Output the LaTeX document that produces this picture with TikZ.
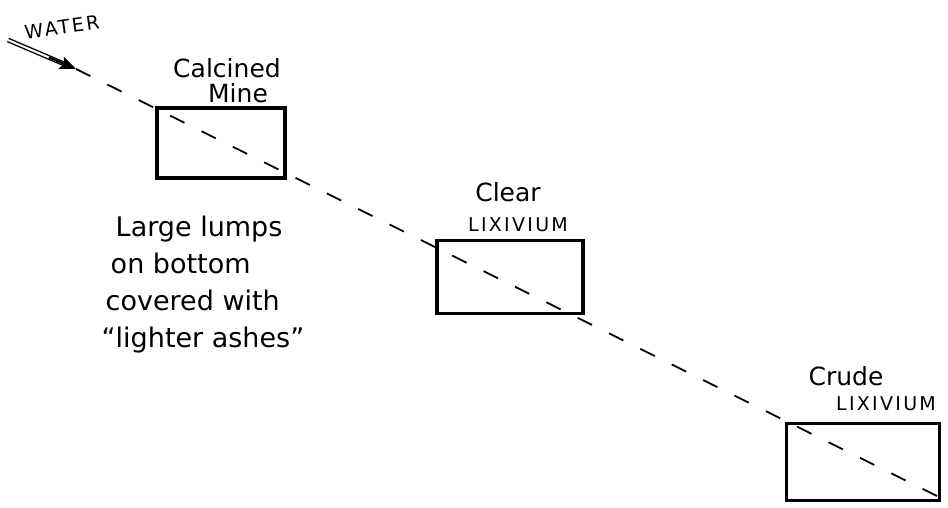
\documentclass[tikz,border=0pt]{standalone}
\usepackage{fontspec}
\setmainfont{DejaVu Sans}
\usetikzlibrary{arrows.meta,calc}
\begin{document}
\begin{tikzpicture}[x=1pt,y=-1pt,
  tank/.style={draw,line width=3.2pt,minimum width=#1,inner sep=0pt},
  lbl/.style={font=\fontsize{25}{28}\selectfont,inner sep=0pt},
  caps/.style={font=\fontsize{19}{21}\selectfont\addfontfeatures{LetterSpace=12},inner sep=0pt},
  note/.style={font=\fontsize{27}{37}\selectfont,align=left,inner sep=0pt},
  flow/.style={line width=1.8pt,dash pattern=on 16pt off 19pt}]
\useasboundingbox (0,0) rectangle (948,508);
% tanks
\node[tank=128pt,minimum height=70pt] (mine) at (221,143) {};
\node[tank=146pt,minimum height=73pt] (clear) at (510,277) {};
\node[tank=153pt,minimum height=77pt] (crude) at (863,462) {};
% labels
\node[lbl] (calc) at (227,68) {Calcined};
\node[lbl] (mineT) at (238,93) {Mine};
\node[lbl] (clearT) at (508,192) {Clear};
\node[caps] (lix1) at (518,225) {LIXIVIUM};
\node[lbl] (crudeT) at (846,376) {Crude};
\node[caps] (lix2) at (886,404) {LIXIVIUM};
\node[caps,rotate=8] (water) at (62,27) {WATER};
\node[note] (notes) at (203,285) {\hspace*{14pt}Large lumps\\\hspace*{9pt}on bottom\\\hspace*{4pt}covered with\\“lighter ashes”};
% flow
\coordinate (w0) at (8,40);
\coordinate (w1) at (76,69);
\coordinate (fend) at (937,496);
\draw[line width=1.4pt,double,double distance=2pt] (w0) -- ($(w0)!0.85!(w1)$);
\draw[line width=2pt,-{Stealth[length=16pt,width=13pt,inset=3pt]}] ($(w0)!0.6!(w1)$) -- (w1);
\draw[flow] (w1) -- (fend);
\end{tikzpicture}
\end{document}
